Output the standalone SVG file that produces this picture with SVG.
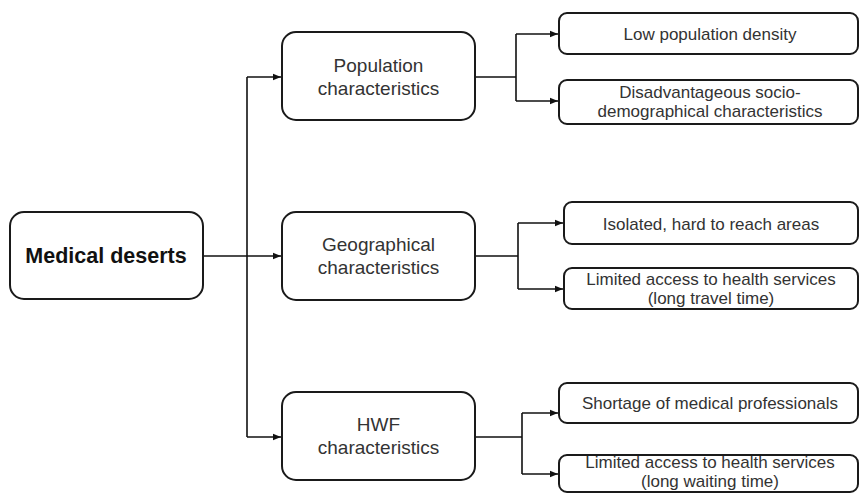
<svg xmlns="http://www.w3.org/2000/svg" width="861" height="494" viewBox="0 0 861 494">
<style>
.box{fill:#fff;stroke:#1a1a1a;stroke-width:2}
.t{font-family:"Liberation Sans",Arial,sans-serif;fill:#333;text-anchor:middle}
.m{font-size:19px}
.r{font-size:17px}
.b{font-size:21.5px;font-weight:bold;fill:#111}
.c{fill:none;stroke:#111;stroke-width:1.6}
</style>
<defs>
<marker id="ah" viewBox="0 0 10 10" refX="10" refY="5" markerWidth="8" markerHeight="8" markerUnits="userSpaceOnUse" orient="auto">
<path d="M0,1 L10,5 L0,9 Z" fill="#111"/>
</marker>
</defs>
<rect width="861" height="494" fill="#fff"/>
<g id="connectors">
<path class="c" d="M203,256 L281,256" marker-end="url(#ah)"/>
<path class="c" d="M247,77 L247,437"/>
<path class="c" d="M247,77 L281,77" marker-end="url(#ah)"/>
<path class="c" d="M247,437 L281,437" marker-end="url(#ah)"/>
<path class="c" d="M475,77 L516,77 M516,34 L516,101"/>
<path class="c" d="M516,34 L558,34" marker-end="url(#ah)"/>
<path class="c" d="M516,101 L558,101" marker-end="url(#ah)"/>
<path class="c" d="M475,256 L518,256 M518,223 L518,289"/>
<path class="c" d="M518,223 L563,223" marker-end="url(#ah)"/>
<path class="c" d="M518,289 L563,289" marker-end="url(#ah)"/>
<path class="c" d="M475,437 L522,437 M522,413 L522,474"/>
<path class="c" d="M522,413 L558,413" marker-end="url(#ah)"/>
<path class="c" d="M522,474 L558,474" marker-end="url(#ah)"/>
</g>
<g id="medical-deserts">
<rect class="box" x="10" y="212" width="193" height="87" rx="14"/>
<text class="t b" x="106" y="263">Medical deserts</text>
</g>
<g id="population">
<rect class="box" x="282" y="32" width="193" height="88" rx="14"/>
<text class="t m" x="378.5" y="71.5">Population</text>
<text class="t m" x="378.5" y="94.5">characteristics</text>
</g>
<g id="geographical">
<rect class="box" x="282" y="212" width="193" height="88" rx="14"/>
<text class="t m" x="378.5" y="251">Geographical</text>
<text class="t m" x="378.5" y="274">characteristics</text>
</g>
<g id="hwf">
<rect class="box" x="282" y="392" width="193" height="88" rx="14"/>
<text class="t m" x="378.5" y="431">HWF</text>
<text class="t m" x="378.5" y="454">characteristics</text>
</g>
<g id="low-density">
<rect class="box" x="559" y="13" width="299" height="41" rx="8"/>
<text class="t r" x="710" y="39.5">Low population density</text>
</g>
<g id="socio-demographic">
<rect class="box" x="559" y="80" width="299" height="44" rx="8"/>
<text class="t r" x="710" y="98">Disadvantageous socio-</text>
<text class="t r" x="710" y="117">demographical characteristics</text>
</g>
<g id="isolated">
<rect class="box" x="564" y="202" width="294" height="42" rx="8"/>
<text class="t r" x="711" y="229.5">Isolated, hard to reach areas</text>
</g>
<g id="travel-time">
<rect class="box" x="564" y="268" width="294" height="41" rx="8"/>
<text class="t r" x="711" y="285">Limited access to health services</text>
<text class="t r" x="711" y="304">(long travel time)</text>
</g>
<g id="shortage">
<rect class="box" x="559" y="383" width="299" height="40" rx="8"/>
<text class="t r" x="710" y="409">Shortage of medical professionals</text>
</g>
<g id="waiting-time">
<rect class="box" x="559" y="455" width="299" height="37" rx="8"/>
<text class="t r" x="710" y="468">Limited access to health services</text>
<text class="t r" x="710" y="487">(long waiting time)</text>
</g>
</svg>
